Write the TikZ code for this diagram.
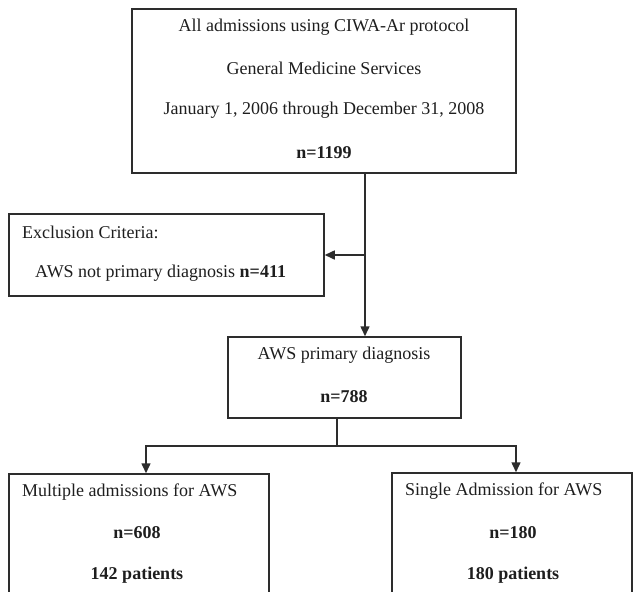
\documentclass[tikz,border=0pt]{standalone}
\usepackage{fontspec}
\setmainfont{Liberation Serif}
\usetikzlibrary{arrows.meta}
\definecolor{linec}{RGB}{45,45,45}
\definecolor{textc}{RGB}{30,30,30}
\tikzset{
  boxs/.style={draw=linec, line width=1.5pt, rectangle, inner sep=0pt},
  txt/.style={font=\fontsize{18}{20}\selectfont, text=textc, inner sep=0pt},
  conn/.style={draw=linec, line width=1.5pt},
  arr/.style={conn, -{Triangle[length=10pt,width=9pt]}},
}
\begin{document}
\begin{tikzpicture}[x=1pt,y=-1pt]
\useasboundingbox (0,0) rectangle (633,592);
\clip (0,0) rectangle (633,592);
\fill[white] (0,0) rectangle (633,592);
% boxes
\node[boxs, minimum width=384pt, minimum height=164pt] (top) at (324,91) {};
\node[boxs, minimum width=315pt, minimum height=82pt] (excl) at (166.5,255) {};
\node[boxs, minimum width=233pt, minimum height=81pt] (aws) at (344.5,377.5) {};
\node[boxs, minimum width=260pt, minimum height=150pt] (multi) at (139,549) {};
\node[boxs, minimum width=240pt, minimum height=150pt] (single) at (512,548) {};
% texts
\node[txt] (t1) at (324,27) {All admissions using CIWA-Ar protocol};
\node[txt] (t2) at (324,68) {General Medicine Services};
\node[txt] (t3) at (324,110) {January 1, 2006 through December 31, 2008};
\node[txt] (t4) at (324,153) {\textbf{n=1199}};
\node[txt, anchor=west] (e1) at (22,232) {Exclusion Criteria:};
\node[txt, anchor=west] (e2) at (35,273) {AWS not primary diagnosis \textbf{n=411}};
\node[txt] (a1) at (344,355) {AWS primary diagnosis};
\node[txt] (a2) at (344,397) {\textbf{n=788}};
\node[txt, anchor=west] (m1) at (22,492) {Multiple admissions for AWS};
\node[txt] (m2) at (137,533) {\textbf{n=608}};
\node[txt] (m3) at (137,575) {\textbf{142 patients}};
\node[txt, anchor=west] (s1) at (405,491) {Single Admission for AWS};
\node[txt] (s2) at (513,533) {\textbf{n=180}};
\node[txt] (s3) at (513,575) {\textbf{180 patients}};
% connectors
\coordinate (j1) at (365,255);
\coordinate (j2) at (337,446);
\draw[arr] (top.south -| j1) -- (aws.north -| j1);
\draw[arr] (j1) -- (excl.east |- j1);
\draw[conn] (aws.south -| j2) -- (j2);
\draw[arr] (j2) -| (multi.north -| 146,0);
\draw[arr] (j2) -| (single.north -| 516,0);
\end{tikzpicture}
\end{document}
